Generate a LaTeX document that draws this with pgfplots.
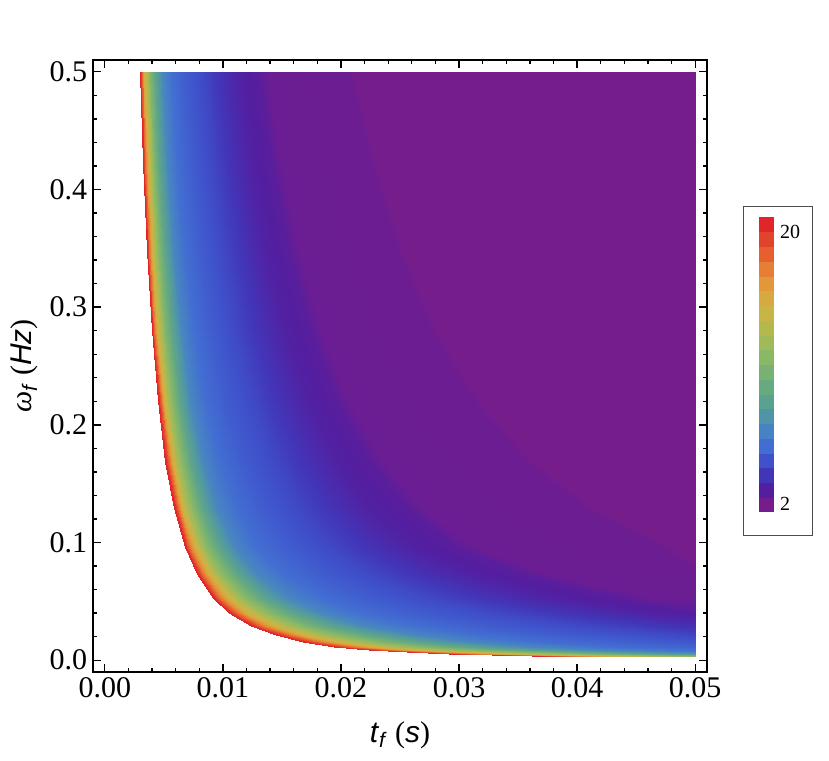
\documentclass[border=0pt]{standalone}
\usepackage{fontspec}
\setmainfont{Liberation Serif}
\setsansfont{Liberation Sans}
\usepackage{pgfplots}
\usepackage{pgfplotstable}
\pgfplotsset{compat=1.18}

% rainbow map, one colour per legend band (band centres at odd cm)
\pgfplotsset{colormap={rbs}{
 rgb255(0cm)=(118,29,140) rgb255(1cm)=(118,29,140)
 rgb255(3cm)=(84,30,160) rgb255(5cm)=(66,54,184) rgb255(7cm)=(63,82,203)
 rgb255(9cm)=(66,109,210) rgb255(11cm)=(71,130,196) rgb255(13cm)=(79,149,168)
 rgb255(15cm)=(91,161,144) rgb255(17cm)=(104,170,128) rgb255(19cm)=(120,178,114)
 rgb255(21cm)=(139,184,102) rgb255(23cm)=(160,186,90) rgb255(25cm)=(181,184,79)
 rgb255(27cm)=(201,180,70) rgb255(29cm)=(214,170,64) rgb255(31cm)=(227,151,58)
 rgb255(33cm)=(230,126,52) rgb255(35cm)=(229,96,46) rgb255(37cm)=(226,67,43)
 rgb255(39cm)=(224,38,42) rgb255(40cm)=(224,38,42)}}

% rows of constant omega (18 points each), columns follow the contours
\pgfplotstableread{
t w f
0.002970 0.5 20
0.003140 0.5 17.5
0.003338 0.5 14.8
0.003564 0.5 12.8
0.003847 0.5 11.0
0.004243 0.5 9.0
0.004808 0.5 7.2
0.005657 0.5 6.1
0.006788 0.5 5.5
0.008202 0.5 4.9
0.009617 0.5 4.2
0.011314 0.5 3.5
0.013011 0.5 3.2
0.013718 0.5 2.75
0.020648 0.5 2.7
0.021496 0.5 2.3
0.033941 0.5 2.0
0.05 0.5 2.0
0.003231 0.4225 20
0.003415 0.4225 17.5
0.003631 0.4225 14.8
0.003877 0.4225 12.8
0.004185 0.4225 11.0
0.004615 0.4225 9.0
0.005231 0.4225 7.2
0.006154 0.4225 6.1
0.007385 0.4225 5.5
0.008923 0.4225 4.9
0.010462 0.4225 4.2
0.012308 0.4225 3.5
0.014154 0.4225 3.2
0.014923 0.4225 2.75
0.022462 0.4225 2.7
0.023385 0.4225 2.3
0.036923 0.4225 2.0
0.05 0.4225 2.0
0.003559 0.3481 20
0.003763 0.3481 17.5
0.004000 0.3481 14.8
0.004271 0.3481 12.8
0.004610 0.3481 11.0
0.005085 0.3481 9.0
0.005763 0.3481 7.2
0.006780 0.3481 6.1
0.008136 0.3481 5.5
0.009831 0.3481 4.9
0.011525 0.3481 4.2
0.013559 0.3481 3.5
0.015593 0.3481 3.2
0.016441 0.3481 2.75
0.024746 0.3481 2.7
0.025763 0.3481 2.3
0.040678 0.3481 2.0
0.05 0.3481 2.0
0.003962 0.2809 20
0.004189 0.2809 17.5
0.004453 0.2809 14.8
0.004755 0.2809 12.8
0.005132 0.2809 11.0
0.005660 0.2809 9.0
0.006415 0.2809 7.2
0.007547 0.2809 6.1
0.009057 0.2809 5.5
0.010943 0.2809 4.9
0.012830 0.2809 4.2
0.015094 0.2809 3.5
0.017358 0.2809 3.2
0.018302 0.2809 2.75
0.027547 0.2809 2.7
0.028679 0.2809 2.3
0.045283 0.2809 2.0
0.05 0.2809 2.0
0.004468 0.2209 20
0.004723 0.2209 17.5
0.005021 0.2209 14.8
0.005362 0.2209 12.8
0.005787 0.2209 11.0
0.006383 0.2209 9.0
0.007234 0.2209 7.2
0.008511 0.2209 6.1
0.010213 0.2209 5.5
0.012340 0.2209 4.9
0.014468 0.2209 4.2
0.017021 0.2209 3.5
0.019574 0.2209 3.2
0.020638 0.2209 2.75
0.031064 0.2209 2.7
0.032340 0.2209 2.3
0.05 0.2209 2.02
0.05 0.2209 2.02
0.005122 0.1681 20
0.005415 0.1681 17.5
0.005756 0.1681 14.8
0.006146 0.1681 12.8
0.006634 0.1681 11.0
0.007317 0.1681 9.0
0.008293 0.1681 7.2
0.009756 0.1681 6.1
0.011707 0.1681 5.5
0.014146 0.1681 4.9
0.016585 0.1681 4.2
0.019512 0.1681 3.5
0.022439 0.1681 3.2
0.023659 0.1681 2.75
0.035610 0.1681 2.7
0.037073 0.1681 2.3
0.05 0.1681 2.12
0.05 0.1681 2.12
0.005833 0.1296 20
0.006167 0.1296 17.5
0.006556 0.1296 14.8
0.007000 0.1296 12.8
0.007556 0.1296 11.0
0.008333 0.1296 9.0
0.009444 0.1296 7.2
0.011111 0.1296 6.1
0.013333 0.1296 5.5
0.016111 0.1296 4.9
0.018889 0.1296 4.2
0.022222 0.1296 3.5
0.025556 0.1296 3.2
0.026944 0.1296 2.75
0.040556 0.1296 2.7
0.042222 0.1296 2.3
0.05 0.1296 2.2
0.05 0.1296 2.2
0.006774 0.0961 20
0.007161 0.0961 17.5
0.007613 0.0961 14.8
0.008129 0.0961 12.8
0.008774 0.0961 11.0
0.009677 0.0961 9.0
0.010968 0.0961 7.2
0.012903 0.0961 6.1
0.015484 0.0961 5.5
0.018710 0.0961 4.9
0.021935 0.0961 4.2
0.025806 0.0961 3.5
0.029677 0.0961 3.2
0.031290 0.0961 2.75
0.047097 0.0961 2.7
0.049032 0.0961 2.3
0.05 0.0961 2.29
0.05 0.0961 2.29
0.007778 0.0729 20
0.008244 0.0729 17.5
0.008789 0.0729 14.8
0.009411 0.0729 12.8
0.010189 0.0729 11.0
0.011278 0.0729 9.0
0.012833 0.0729 7.2
0.015167 0.0729 6.1
0.018278 0.0729 5.5
0.022167 0.0729 4.9
0.026056 0.0729 4.2
0.030722 0.0729 3.5
0.035389 0.0729 3.2
0.037333 0.0729 2.75
0.05 0.0729 2.72
0.05 0.0729 2.72
0.05 0.0729 2.72
0.05 0.0729 2.72
0.009130 0.0529 20
0.009713 0.0529 17.5
0.010396 0.0529 14.8
0.011174 0.0529 12.8
0.012148 0.0529 11.0
0.013513 0.0529 9.0
0.015461 0.0529 7.2
0.018383 0.0529 6.1
0.022278 0.0529 5.5
0.027148 0.0529 4.9
0.032017 0.0529 4.2
0.037861 0.0529 3.5
0.043704 0.0529 3.2
0.046139 0.0529 2.75
0.05 0.0529 2.74
0.05 0.0529 2.74
0.05 0.0529 2.74
0.05 0.0529 2.74
0.010500 0.04 20
0.011220 0.04 17.5
0.012060 0.04 14.8
0.013020 0.04 12.8
0.014220 0.04 11.0
0.015900 0.04 9.0
0.018300 0.04 7.2
0.021900 0.04 6.1
0.026700 0.04 5.5
0.032700 0.04 4.9
0.038700 0.04 4.2
0.045900 0.04 3.5
0.05 0.04 3.33
0.05 0.04 3.33
0.05 0.04 3.33
0.05 0.04 3.33
0.05 0.04 3.33
0.05 0.04 3.33
0.012353 0.0289 20
0.013247 0.0289 17.5
0.014294 0.0289 14.8
0.015488 0.0289 12.8
0.016982 0.0289 11.0
0.019076 0.0289 9.0
0.022065 0.0289 7.2
0.026547 0.0289 6.1
0.032524 0.0289 5.5
0.039994 0.0289 4.9
0.047465 0.0289 4.2
0.05 0.0289 4.0
0.05 0.0289 4.0
0.05 0.0289 4.0
0.05 0.0289 4.0
0.05 0.0289 4.0
0.05 0.0289 4.0
0.05 0.0289 4.0
0.014483 0.021025 20
0.015572 0.021025 17.5
0.016848 0.021025 14.8
0.018303 0.021025 12.8
0.020124 0.021025 11.0
0.022676 0.021025 9.0
0.026317 0.021025 7.2
0.031779 0.021025 6.1
0.039062 0.021025 5.5
0.048166 0.021025 4.9
0.05 0.021025 4.76
0.05 0.021025 4.76
0.05 0.021025 4.76
0.05 0.021025 4.76
0.05 0.021025 4.76
0.05 0.021025 4.76
0.05 0.021025 4.76
0.05 0.021025 4.76
0.016800 0.015625 20
0.018104 0.015625 17.5
0.019632 0.015625 14.8
0.021368 0.015625 12.8
0.023544 0.015625 11.0
0.026592 0.015625 9.0
0.030944 0.015625 7.2
0.037472 0.015625 6.1
0.046176 0.015625 5.5
0.05 0.015625 5.29
0.05 0.015625 5.29
0.05 0.015625 5.29
0.05 0.015625 5.29
0.05 0.015625 5.29
0.05 0.015625 5.29
0.05 0.015625 5.29
0.05 0.015625 5.29
0.05 0.015625 5.29
0.019444 0.011664 20
0.021000 0.011664 17.5
0.022815 0.011664 14.8
0.024889 0.011664 12.8
0.027481 0.011664 11.0
0.031111 0.011664 9.0
0.036296 0.011664 7.2
0.044074 0.011664 6.1
0.05 0.011664 5.76
0.05 0.011664 5.76
0.05 0.011664 5.76
0.05 0.011664 5.76
0.05 0.011664 5.76
0.05 0.011664 5.76
0.05 0.011664 5.76
0.05 0.011664 5.76
0.05 0.011664 5.76
0.05 0.011664 5.76
0.022340 0.008836 20
0.024128 0.008836 17.5
0.026213 0.008836 14.8
0.028596 0.008836 12.8
0.031574 0.008836 11.0
0.035745 0.008836 9.0
0.041702 0.008836 7.2
0.05 0.008836 6.18
0.05 0.008836 6.18
0.05 0.008836 6.18
0.05 0.008836 6.18
0.05 0.008836 6.18
0.05 0.008836 6.18
0.05 0.008836 6.18
0.05 0.008836 6.18
0.05 0.008836 6.18
0.05 0.008836 6.18
0.05 0.008836 6.18
0.025610 0.006724 20
0.027659 0.006724 17.5
0.030049 0.006724 14.8
0.032780 0.006724 12.8
0.036195 0.006724 11.0
0.040976 0.006724 9.0
0.047805 0.006724 7.2
0.05 0.006724 6.96
0.05 0.006724 6.96
0.05 0.006724 6.96
0.05 0.006724 6.96
0.05 0.006724 6.96
0.05 0.006724 6.96
0.05 0.006724 6.96
0.05 0.006724 6.96
0.05 0.006724 6.96
0.05 0.006724 6.96
0.05 0.006724 6.96
0.029167 0.005184 20
0.031500 0.005184 17.5
0.034222 0.005184 14.8
0.037333 0.005184 12.8
0.041222 0.005184 11.0
0.046667 0.005184 9.0
0.05 0.005184 8.23
0.05 0.005184 8.23
0.05 0.005184 8.23
0.05 0.005184 8.23
0.05 0.005184 8.23
0.05 0.005184 8.23
0.05 0.005184 8.23
0.05 0.005184 8.23
0.05 0.005184 8.23
0.05 0.005184 8.23
0.05 0.005184 8.23
0.05 0.005184 8.23
0.032813 0.004096 20
0.035438 0.004096 17.5
0.038500 0.004096 14.8
0.042000 0.004096 12.8
0.046375 0.004096 11.0
0.05 0.004096 9.81
0.05 0.004096 9.81
0.05 0.004096 9.81
0.05 0.004096 9.81
0.05 0.004096 9.81
0.05 0.004096 9.81
0.05 0.004096 9.81
0.05 0.004096 9.81
0.05 0.004096 9.81
0.05 0.004096 9.81
0.05 0.004096 9.81
0.05 0.004096 9.81
0.05 0.004096 9.81
0.036207 0.003364 20
0.039103 0.003364 17.5
0.042483 0.003364 14.8
0.046345 0.003364 12.8
0.05 0.003364 11.44
0.05 0.003364 11.44
0.05 0.003364 11.44
0.05 0.003364 11.44
0.05 0.003364 11.44
0.05 0.003364 11.44
0.05 0.003364 11.44
0.05 0.003364 11.44
0.05 0.003364 11.44
0.05 0.003364 11.44
0.05 0.003364 11.44
0.05 0.003364 11.44
0.05 0.003364 11.44
0.05 0.003364 11.44
0.039623 0.002809 20
0.042792 0.002809 17.5
0.046491 0.002809 14.8
0.05 0.002809 13.14
0.05 0.002809 13.14
0.05 0.002809 13.14
0.05 0.002809 13.14
0.05 0.002809 13.14
0.05 0.002809 13.14
0.05 0.002809 13.14
0.05 0.002809 13.14
0.05 0.002809 13.14
0.05 0.002809 13.14
0.05 0.002809 13.14
0.05 0.002809 13.14
0.05 0.002809 13.14
0.05 0.002809 13.14
0.05 0.002809 13.14
}\surfdata

\begin{document}
\begin{tikzpicture}
\begin{axis}[
  name=main,
  scale only axis,
  width=368.4pt, height=367.2pt,
  xmin=-0.001, xmax=0.051,
  ymin=-0.01, ymax=0.51,
  xtick={0,0.01,0.02,0.03,0.04,0.05},
  ytick={0,0.1,0.2,0.3,0.4,0.5},
  minor x tick num=4, minor y tick num=4,
  scaled ticks=false,
  x tick label style={/pgf/number format/.cd, fixed, fixed zerofill, precision=2, assume math mode=true},
  y tick label style={/pgf/number format/.cd, fixed, fixed zerofill, precision=1, assume math mode=true},
  tick label style={font=\fontsize{18}{21}\selectfont},
  label style={font=\fontsize{18}{21}\selectfont},
  xlabel style={yshift=-7pt},
  tick align=inside,
  major tick length=4.8pt, minor tick length=2.4pt,
  every tick/.style={black, line width=0.8pt},
  axis line style={line width=1pt},
  axis on top,
  xlabel={\textsf{\textit{t}}\textsubscript{\textsf{\textit{f}}} (\textsf{\textit{s}})},
  ylabel={\textit{ω}\textsubscript{\textsf{\textit{f}}} (\textsf{\textit{Hz}})},
  colormap name=rbs,
  point meta min=2, point meta max=20,
  colorbar sampled,
  colorbar style={
    samples=21,
    at={(parent axis.east)}, anchor=west,
    xshift=22.8pt, yshift=0.9pt,
    width=9pt, height=177pt,
    ytick={2.5,19.1}, yticklabels={2,20},
    yticklabel style={font=\fontsize{12}{14}\selectfont},
    major tick length=0pt,
    axis line style={draw=none},
  },
]
\addplot[surf, shader=interp, mesh/cols=18, point meta=explicit]
  table[x=t, y=w, meta=f] {\surfdata};
\end{axis}
% frame round the legend
\draw[black!70, line width=0.6pt]
  ([xshift=21.6pt, yshift=81.6pt]main.south east) rectangle
  ([xshift=63pt, yshift=279pt]main.south east);
% page size of the reference
\path ([xshift=-55.8pt, yshift=-53.4pt]main.south west) rectangle
  ([xshift=441.6pt, yshift=403.2pt]main.south west);
\end{tikzpicture}
\end{document}
